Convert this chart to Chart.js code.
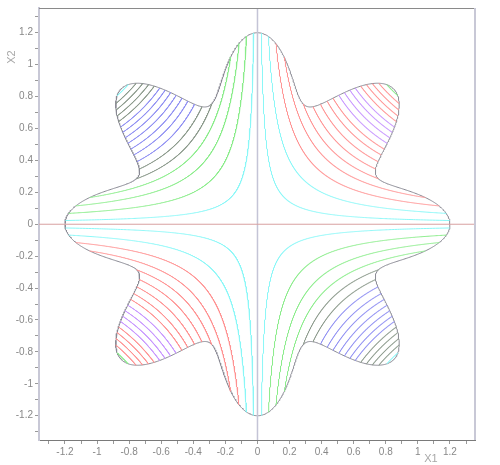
<!DOCTYPE html>
<html>
<head>
<meta charset="utf-8">
<script src="https://cdn.jsdelivr.net/npm/chart.js@4.4.1/dist/chart.umd.min.js"></script>
<style>
  html, body { margin: 0; padding: 0; background: #fff; }
  #wrap { position: relative; width: 500px; height: 465px; }
</style>
</head>
<body>
<div id="wrap"><canvas id="chart"></canvas></div>
<script>
// contour levels of x1*x2
const posLevels = [0.028, 0.08, 0.13, 0.175, 0.215, 0.255, 0.295, 0.335, 0.372,
  0.41, 0.447, 0.484, 0.52, 0.557, 0.594, 0.631, 0.668, 0.705];
const posColours = ['cyan', 'cyan', 'red', 'red', 'red', 'red', 'red', 'red', 'red',
  'purple', 'purple', 'purple', 'purple', 'red', 'red', 'red', 'red', 'green'];
const negLevels = [-0.028, -0.08, -0.13, -0.175, -0.215, -0.255, -0.295, -0.335, -0.372,
  -0.41, -0.447, -0.484, -0.52, -0.557, -0.594, -0.631, -0.668, -0.705];
const negColours = ['cyan', 'green', 'green', 'green', 'dark', 'dark', 'blue', 'blue', 'blue',
  'blue', 'blue', 'blue', 'blue', 'dark', 'dark', 'dark', 'dark', 'cyan'];

// domain edge: r = mean + amp * cos(lobes * theta)
const edgeLobes = 8;
const edgeMean = 1.0;
const edgeAmp = 0.2;

// axes
const xMin = -1.362, xMax = 1.356;
const yMin = -1.352, yMax = 1.355;
const tickValues = [-1.3, -1.2, -1.1, -1, -0.9, -0.8, -0.7, -0.6, -0.5, -0.4, -0.3, -0.2, -0.1, 0,
  0.1, 0.2, 0.3, 0.4, 0.5, 0.6, 0.7, 0.8, 0.9, 1, 1.1, 1.2, 1.3];
const majorTicks = [-1.2, -1, -0.8, -0.6, -0.4, -0.2, 0, 0.2, 0.4, 0.6, 0.8, 1, 1.2];
const majorLabels = ['-1.2', '-1', '-0.8', '-0.6', '-0.4', '-0.2', '0', '0.2', '0.4', '0.6', '0.8', '1', '1.2'];

const palette = {
  cyan: '#8af7f7', red: '#ff9292', purple: '#c796ff', green: '#8aec8a',
  blue: '#9090f2', dark: '#8c9a8c', edge: '#8a8a94'
};
const tickFont = { family: 'Liberation Sans', size: 10 };

function edgeR(t) { return edgeMean + edgeAmp * Math.cos(edgeLobes * t); }
function hypR(c, t) {
  const s = Math.sin(2 * t);
  return s * c > 0 ? Math.sqrt(2 * c / s) : Infinity;
}
function inside(c, t) { return hypR(c, t) < edgeR(t); }
function pt(c, t) { const r = hypR(c, t); return { x: r * Math.cos(t), y: r * Math.sin(t) }; }

// pieces of x1*x2 = c that lie inside the domain, one quadrant at a time
function contourPieces(c, q) {
  const a = q * Math.PI / 2, n = 1800;
  const pieces = [];
  let cur = null, prevIn = false, prevT = a;
  for (let i = 1; i < n; i++) {
    const t = a + (Math.PI / 2) * i / n;
    const isIn = inside(c, t);
    if (isIn !== prevIn && i > 1) {
      let lo = prevT, hi = t;
      for (let k = 0; k < 40; k++) {
        const m = (lo + hi) / 2;
        if (inside(c, m) === prevIn) lo = m; else hi = m;
      }
      const p = pt(c, (lo + hi) / 2);
      if (isIn) cur = [p];
      else { cur.push(p); pieces.push(cur); cur = null; }
    }
    if (isIn) { if (!cur) cur = []; cur.push(pt(c, t)); }
    prevIn = isIn; prevT = t;
  }
  if (cur) pieces.push(cur);
  return pieces;
}

function lineSet(data, color, width) {
  return { data, borderColor: color, borderWidth: width || 1, showLine: true,
    pointRadius: 0, pointHoverRadius: 0, fill: false, tension: 0 };
}

const datasets = [];
datasets.push(lineSet([{ x: xMin, y: 0 }, { x: xMax, y: 0 }], '#d8a0a0'));
datasets.push(lineSet([{ x: 0, y: yMin }, { x: 0, y: yMax }], '#c4c4d6', 1.5));

posLevels.forEach((c, i) => {
  [0, 2].forEach(q => contourPieces(c, q).forEach(p => datasets.push(lineSet(p, palette[posColours[i]]))));
});
negLevels.forEach((c, i) => {
  [1, 3].forEach(q => contourPieces(c, q).forEach(p => datasets.push(lineSet(p, palette[negColours[i]]))));
});

const edgePts = [];
for (let i = 0; i <= 1440; i++) {
  const t = 2 * Math.PI * i / 1440;
  const r = edgeR(t);
  edgePts.push({ x: r * Math.cos(t), y: r * Math.sin(t) });
}
datasets.push(lineSet(edgePts, palette.edge));

function labelFor(v) {
  const idx = majorTicks.findIndex(m => Math.abs(m - v) < 1e-6);
  return idx >= 0 ? majorLabels[idx] : '';
}

const frame = {
  id: 'frame',
  afterDraw(chart) {
    const { ctx, chartArea: a } = chart;
    ctx.save();
    ctx.strokeStyle = '#8a8a8a';
    ctx.lineWidth = 1;
    ctx.beginPath();
    ctx.moveTo(a.left, a.top + 0.5);
    ctx.lineTo(a.right, a.top + 0.5);
    ctx.stroke();
    ctx.strokeStyle = '#c8c8d6';
    ctx.lineWidth = 2;
    ctx.beginPath();
    ctx.moveTo(a.right, a.top);
    ctx.lineTo(a.right, a.bottom);
    ctx.stroke();
    ctx.fillStyle = '#a8a8a8';
    ctx.font = '11px "Liberation Sans"';
    ctx.textAlign = 'center';
    ctx.textBaseline = 'middle';
    ctx.fillText('X1', 431, 459);
    ctx.translate(12, 57);
    ctx.rotate(-Math.PI / 2);
    ctx.fillText('X2', 0, 0);
    ctx.restore();
  }
};

new Chart(document.getElementById('chart').getContext('2d'), {
  type: 'scatter',
  data: { datasets },
  plugins: [frame],
  options: {
    responsive: true,
    maintainAspectRatio: false,
    animation: false,
    events: [],
    layout: { padding: { top: 4, right: 25, left: 0, bottom: 0 } },
    plugins: { legend: { display: false }, tooltip: { enabled: false } },
    scales: {
      x: {
        type: 'linear', min: xMin, max: xMax,
        afterFit(s) { s.height = 25; },
        afterBuildTicks(s) { s.ticks = tickValues.map(v => ({ value: v })); },
        ticks: { autoSkip: false, maxRotation: 0, padding: 2, color: '#888', font: tickFont,
          callback: v => labelFor(v) },
        grid: { drawOnChartArea: false, drawTicks: true, tickLength: 4, tickColor: '#999' },
        border: { color: '#7a7a7a', width: 1 }
      },
      y: {
        type: 'linear', min: yMin, max: yMax,
        afterFit(s) { s.width = 39; },
        afterBuildTicks(s) { s.ticks = tickValues.map(v => ({ value: v })); },
        ticks: { autoSkip: false, padding: 2, color: '#888', font: tickFont,
          callback: v => labelFor(v) },
        grid: { drawOnChartArea: false, drawTicks: true, tickLength: 4, tickColor: '#999' },
        border: { color: '#c8c8d6', width: 2 }
      }
    }
  }
});
</script>
</body>
</html>
